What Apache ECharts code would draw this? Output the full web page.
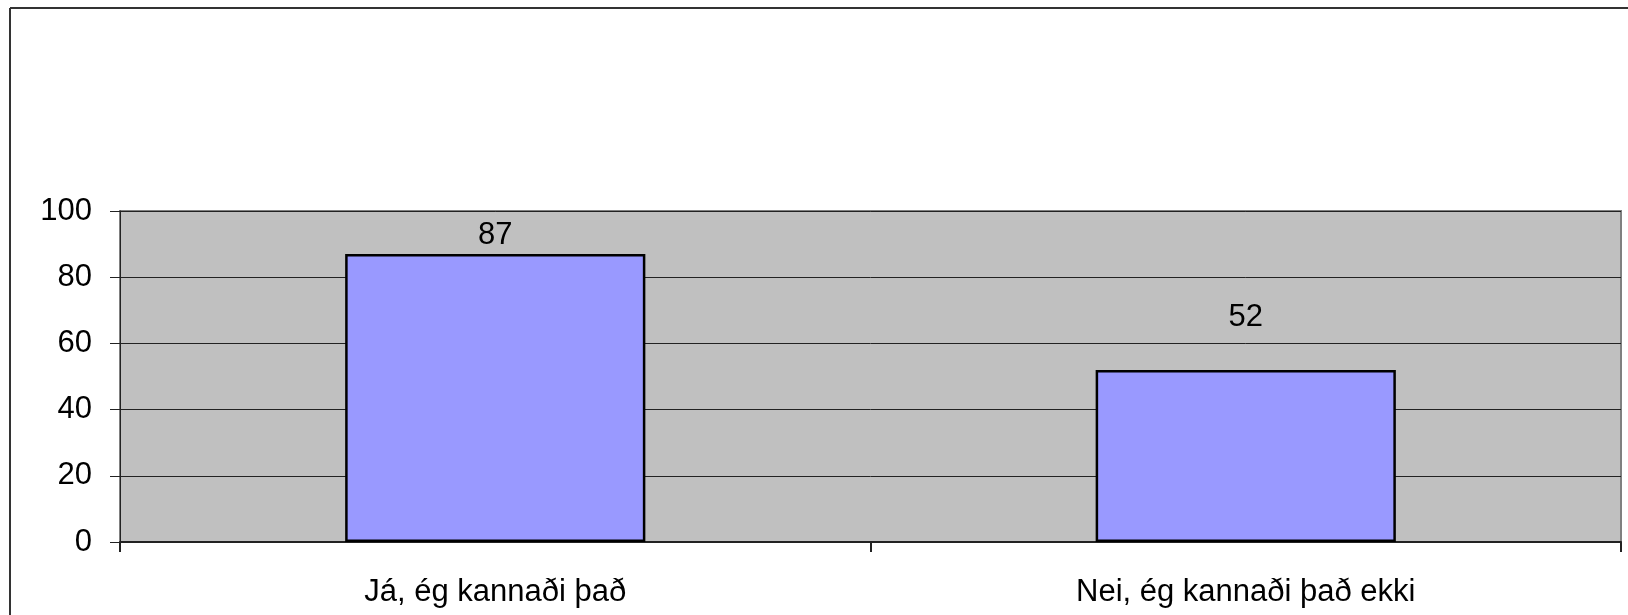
<!DOCTYPE html>
<html>
<head>
<meta charset="utf-8">
<script src="https://cdn.jsdelivr.net/npm/echarts@6/dist/echarts.min.js"></script>
<style>
html,body{margin:0;padding:0;background:#fff;}
#chart{width:1628px;height:615px;}
</style>
</head>
<body>
<div id="chart"></div>
<script>
const categories = ['Já, ég kannaði það', 'Nei, ég kannaði það ekki'];
const values = [87, 52];
const yTicks = { min: 0, max: 100, interval: 20 };

const labelDistances = [3, 37];
const FONT = 'Liberation Sans, Arial, sans-serif';
const FS = 31;

const chart = echarts.init(document.getElementById('chart'), null, { renderer: 'canvas' });
chart.setOption({
  animation: false,
  backgroundColor: '#ffffff',
  graphic: [
    { type: 'line', shape: { x1: 10, y1: 8, x2: 1700, y2: 8 }, style: { stroke: '#333', lineWidth: 2 }, z: 100 },
    { type: 'line', shape: { x1: 10, y1: 8, x2: 10, y2: 700 }, style: { stroke: '#333', lineWidth: 2 }, z: 100 }
  ],
  grid: {
    left: 120, right: 7, top: 211, bottom: 73,
    show: true, backgroundColor: '#C0C0C0', borderColor: '#808080', borderWidth: 2
  },
  xAxis: {
    type: 'category',
    data: categories,
    axisLine: { show: true, lineStyle: { color: '#222', width: 2 } },
    axisTick: { show: true, length: 10, lineStyle: { color: '#222', width: 2 } },
    axisLabel: { color: '#000', fontSize: FS, fontFamily: FONT, margin: 35 },
    splitLine: { show: false }
  },
  yAxis: {
    type: 'value',
    min: yTicks.min, max: yTicks.max, interval: yTicks.interval,
    axisLine: { show: true, lineStyle: { color: '#222', width: 1 } },
    axisTick: { show: true, length: 10, lineStyle: { color: '#222', width: 1 } },
    axisLabel: { color: '#000', fontSize: FS, fontFamily: FONT, margin: 28 },
    splitLine: { show: true, lineStyle: { color: '#222', width: 1 } }
  },
  series: [{
    type: 'bar',
    barWidth: '40%',
    data: values.map((v, i) => ({ value: v, label: { distance: labelDistances[i] } })),
    itemStyle: { color: '#9999FF', borderColor: '#000', borderWidth: 2.5 },
    label: { show: true, position: 'top', color: '#000', fontSize: FS, fontFamily: FONT }
  }]
});
</script>
</body>
</html>
